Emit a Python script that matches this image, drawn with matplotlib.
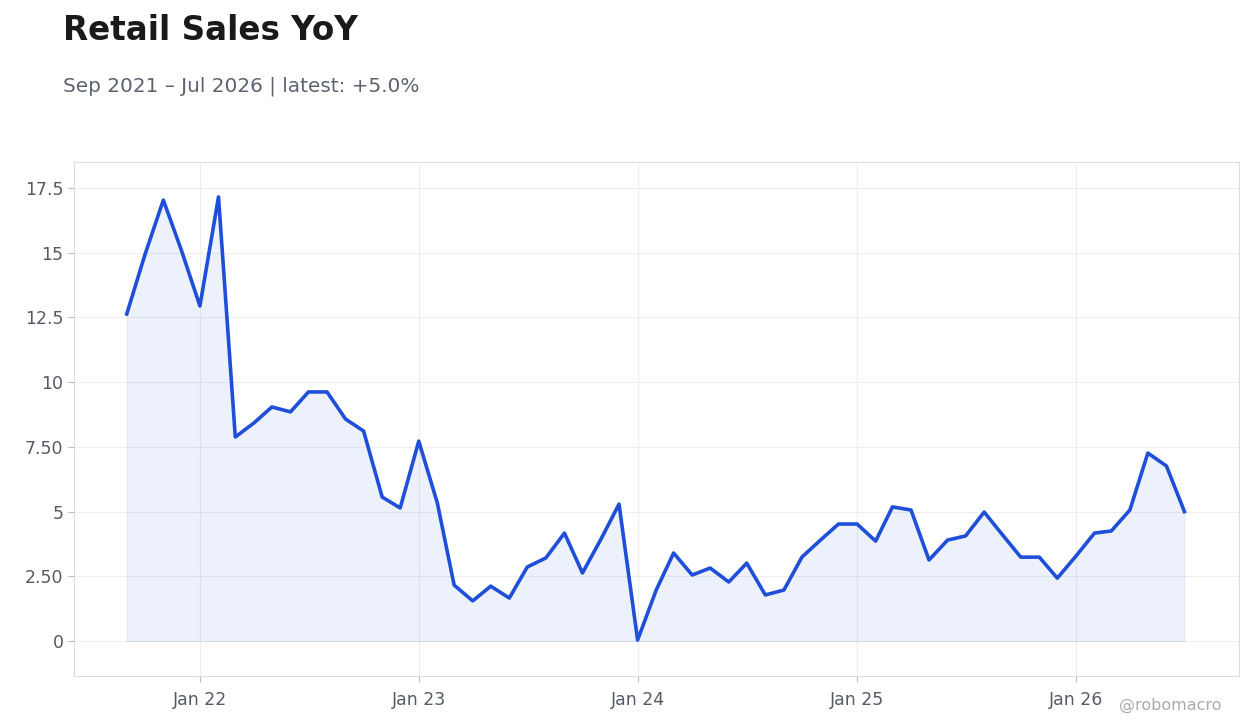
import matplotlib
matplotlib.use("Agg")
import matplotlib.pyplot as plt
import pandas as pd

dates = pd.date_range("2021-09-01", "2026-07-01", freq="MS")
values = [12.63,14.9,17.03,15.1,12.94,17.15,7.88,8.42,9.04,8.85,9.62,9.62,8.57,8.11,5.56,5.14,
          7.72,5.33,2.16,1.55,2.12,1.66,2.86,3.21,4.17,2.63,3.94,5.29,
          0.04,1.97,3.40,2.55,2.82,2.28,3.01,1.78,1.97,3.24,3.90,4.52,
          4.52,3.86,5.18,5.06,3.13,3.90,4.06,4.98,4.09,3.24,3.24,2.43,
          3.28,4.17,4.25,5.06,7.26,6.76,5.0]
yticks = [0, 2.5, 5, 7.5, 10, 12.5, 15, 17.5]
ytick_labels = ["0", "2.50", "5", "7.50", "10", "12.5", "15", "17.5"]
xticks = pd.to_datetime(["2022-01-01","2023-01-01","2024-01-01","2025-01-01","2026-01-01"])
xtick_labels = ["Jan 22","Jan 23","Jan 24","Jan 25","Jan 26"]

fig = plt.figure(figsize=(12.6, 7.28), dpi=100)
ax = fig.add_axes([74/1260, 1-676/728, (1239-74)/1260, (676-162)/728])
blue = "#1f4fd8"
ax.fill_between(dates, values, 0, facecolor=blue, alpha=0.08, edgecolor=blue, lw=0.8)
ax.plot(dates, values, color=blue, lw=2.6)
ax.set_ylim(-1.35, 18.5)
ax.set_xlim(pd.Timestamp("2021-06-05"), pd.Timestamp("2026-09-30"))
ax.set_yticks(yticks)
ax.set_yticklabels(ytick_labels)
ax.set_xticks(xticks)
ax.set_xticklabels(xtick_labels)
ax.grid(True, color="#eeeeee", lw=0.8)
ax.set_axisbelow(True)
for s in ax.spines.values():
    s.set_color("#dddddd")
ax.tick_params(colors="#555a66", labelsize=12.5, length=4, color="#bbbbbb")
ax.tick_params(axis="x", pad=7)
fig.text(63/1260, 1-30/728, "Retail Sales YoY", fontsize=23.5, fontweight="bold", color="#1a1a1a", va="center")
fig.text(63/1260, 1-86/728, "Sep 2021 – Jul 2026 | latest: +5.0%", fontsize=14.4, color="#5c6270", va="center")
fig.text(1222/1260, 1-705/728, "@robomacro", fontsize=11.5, color="#aaaaaa", ha="right", va="center")
fig.savefig("out.png", dpi=100)
